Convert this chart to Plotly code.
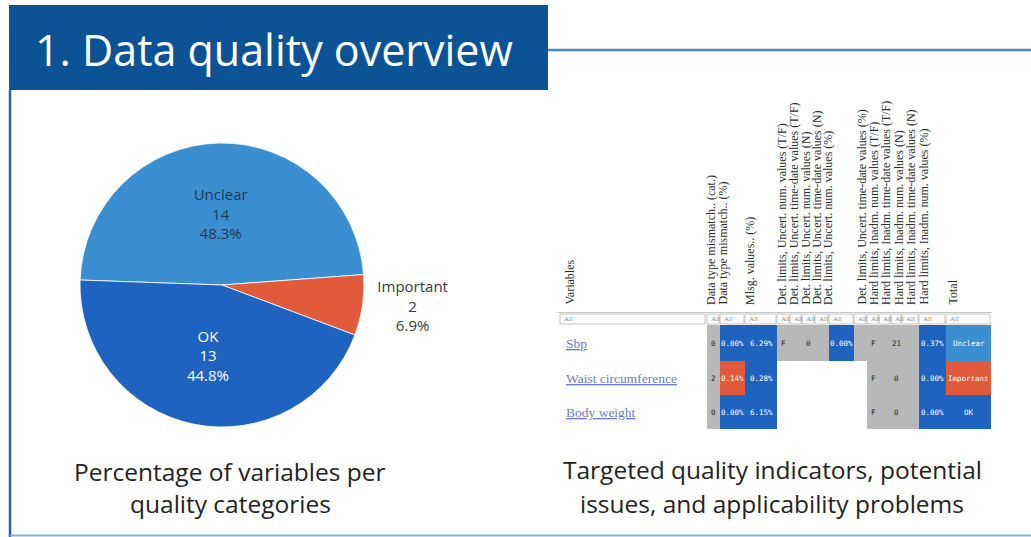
import plotly.graph_objects as go

# ---------------- data ----------------
# Pie: number of variables per quality category
quality_labels = ["Unclear", "Important", "OK"]
quality_counts = [14, 2, 13]

# Table: targeted quality indicators per variable
variables = ["Sbp", "Waist circumference", "Body weight"]
indicator_headers = [
    "Data type mismatch.. (cat.)",
    "Data type mismatch.. (%)",
    "Mlsg. values.. (%)",
    "Det. limits, Uncert. num. values (T/F)",
    "Det. limits, Uncert. time-date values (T/F)",
    "Det. limits, Uncert. num. values (N)",
    "Det. limits, Uncert. time-date values (N)",
    "Det. limits, Uncert. num. values (%)",
    "Det. limits, Uncert. time-date values (%)",
    "Hard limits, Inadm. num. values (T/F)",
    "Hard limits, Inadm. time-date values (T/F)",
    "Hard limits, Inadm. num. values (N)",
    "Hard limits, Inadm. time-date values (N)",
    "Hard limits, Inadm. num. values (%)",
    "Total",
]
cell_text = [
    ["0", "0.00%", "6.29%", "F", "", "0", "", "0.00%", "", "F", "", "21", "", "0.37%", "Unclear"],
    ["2", "0.14%", "0.28%", "", "", "", "", "", "", "F", "", "0", "", "0.00%", "Important"],
    ["0", "0.00%", "6.15%", "", "", "", "", "", "", "F", "", "0", "", "0.00%", "OK"],
]
cell_status = [
    ["na", "ok", "ok", "na", "na", "na", "na", "ok", "na", "na", "na", "na", "na", "ok", "unclear"],
    ["na", "important", "ok", "", "", "", "", "", "", "na", "na", "na", "na", "ok", "important"],
    ["na", "ok", "ok", "", "", "", "", "", "", "na", "na", "na", "na", "ok", "ok"],
]

# ---------------- layout / style ----------------
W, H = 1031, 537
BANNER = "#0c5396"
C_UNCLEAR = "#3b8fd1"
C_OK = "#1f63c1"
C_IMPORTANT = "#e15a3c"
C_NA = "#b8b8b8"

status_code = {"na": 1, "ok": 2, "unclear": 3, "important": 4}
status_scale = [
    [0.0, C_NA], [0.25, C_NA],
    [0.25, C_OK], [0.5, C_OK],
    [0.5, C_UNCLEAR], [0.75, C_UNCLEAR],
    [0.75, C_IMPORTANT], [1.0, C_IMPORTANT],
]

# table geometry (pixel units on the hidden axes)
table_left = 707
col_widths = [13, 25, 32, 13, 12, 13, 14, 25, 13, 12, 12, 11, 17, 27, 45]
row_top = 325
row_heights = [36, 34, 34]
header_base = 307
header_x = [711, 722, 750, 782, 793.5, 805, 816.5, 828, 861, 873.5, 886, 898.5, 911, 923.5, 952]
name_left = 560

col_edges = [table_left]
for w in col_widths:
    col_edges.append(col_edges[-1] + w)
row_edges = [row_top]
for h in row_heights:
    row_edges.append(row_edges[-1] + h)

z = [[status_code.get(s) for s in row] for row in cell_status]

fig = go.Figure()

# pie chart (centre and radius in pixels)
cx, cy, r = 222, 285, 142
fig.add_trace(go.Pie(
    labels=quality_labels,
    values=quality_counts,
    sort=False,
    direction="clockwise",
    rotation=272,
    marker=dict(colors=[C_UNCLEAR, C_IMPORTANT, C_OK], line=dict(color="white", width=0.8)),
    texttemplate="%{label}<br>%{value}<br>%{percent:.1%}",
    textposition=["inside", "outside", "inside"],
    insidetextorientation="horizontal",
    textfont=dict(family="Open Sans", size=15, color=["#24384d", "#3a3a3a", "white"]),
    domain=dict(x=[(cx - r) / W, (cx + r) / W], y=[1 - (cy + r) / H, 1 - (cy - r) / H]),
    showlegend=False,
    hoverinfo="skip",
))

# status table as a heatmap with uneven column widths
fig.add_trace(go.Heatmap(
    z=z,
    x=col_edges,
    y=row_edges,
    zmin=1, zmax=4,
    colorscale=status_scale,
    showscale=False,
    hoverinfo="skip",
    xaxis="x", yaxis="y",
))

shapes = []
annotations = []

# title banner and frame
shapes.append(dict(type="rect", xref="x", yref="y", x0=9, x1=548, y0=5, y1=90,
                   fillcolor=BANNER, line=dict(width=0), layer="below"))
shapes.append(dict(type="line", xref="x", yref="y", x0=548, x1=W, y0=50, y1=50,
                   line=dict(color="#4b87c9", width=2.5)))
shapes.append(dict(type="line", xref="x", yref="y", x0=10, x1=10, y0=90, y1=H,
                   line=dict(color="#2563a9", width=2.5)))
shapes.append(dict(type="line", xref="x", yref="y", x0=10, x1=W, y0=535.5, y1=535.5,
                   line=dict(color="#86aede", width=2)))
annotations.append(dict(xref="x", yref="y", x=33, y=49, text="1. Data quality overview",
                        showarrow=False, xanchor="left", yanchor="middle",
                        font=dict(family="Open Sans", size=43, color="white")))

# captions
caption_font = dict(family="Open Sans", size=24.5, color="#232323")
for txt, x, y in [("Percentage of variables per", 230, 471), ("quality categories", 230, 503),
                  ("Targeted quality indicators, potential", 772, 469),
                  ("issues, and applicability problems", 772, 503)]:
    annotations.append(dict(xref="x", yref="y", x=x, y=y, text=txt, showarrow=False,
                            xanchor="center", yanchor="middle", font=caption_font))

# table header (rotated labels)
header_font = dict(family="Liberation Serif", size=12, color="#2e2e2e")
annotations.append(dict(xref="x", yref="y", x=569, y=header_base, text="Variables",
                        textangle=-90, showarrow=False, xanchor="center", yanchor="bottom",
                        font=header_font))
for hx, label in zip(header_x, indicator_headers):
    annotations.append(dict(xref="x", yref="y", x=hx, y=header_base, text=label,
                            textangle=-90, showarrow=False, xanchor="center", yanchor="bottom",
                            font=header_font))

# filter row
shapes.append(dict(type="line", xref="x", yref="y", x0=558, x1=col_edges[-1] + 1, y0=312.5, y1=312.5,
                   line=dict(color="#c8c8c8", width=1)))
filter_boxes = [(name_left, 705)] + [(col_edges[i], col_edges[i + 1] - 1) for i in range(len(col_widths))]
for x0, x1 in filter_boxes:
    shapes.append(dict(type="rect", xref="x", yref="y", x0=x0, x1=x1, y0=314, y1=324,
                       line=dict(color="#c4c4c4", width=1), fillcolor="white"))
    annotations.append(dict(xref="x", yref="y", x=x0 + 2, y=319, text="All", showarrow=False,
                            xanchor="left", yanchor="middle",
                            font=dict(family="Liberation Serif", size=7, color="#888888")))

# variable names
for i, name in enumerate(variables):
    yc = (row_edges[i] + row_edges[i + 1]) / 2
    annotations.append(dict(xref="x", yref="y", x=564, y=yc, text=f"<u>{name}</u>", showarrow=False,
                            xanchor="left", yanchor="middle",
                            font=dict(family="Liberation Serif", size=13.5, color="#6f7bcb")))

# cell values
for i, row in enumerate(cell_text):
    yc = (row_edges[i] + row_edges[i + 1]) / 2
    for j, txt in enumerate(row):
        if not txt:
            continue
        xc = (col_edges[j] + col_edges[j + 1]) / 2
        color = "#222222" if cell_status[i][j] == "na" else "white"
        annotations.append(dict(xref="x", yref="y", x=xc, y=yc, text=txt, showarrow=False,
                                xanchor="center", yanchor="middle",
                                font=dict(family="DejaVu Sans Mono", size=7.5, color=color)))

fig.update_layout(
    width=W, height=H,
    margin=dict(l=0, r=0, t=0, b=0),
    paper_bgcolor="white",
    plot_bgcolor="rgba(0,0,0,0)",
    xaxis=dict(domain=[0, 1], range=[0, W], visible=False, fixedrange=True),
    yaxis=dict(domain=[0, 1], range=[H, 0], visible=False, fixedrange=True),
    shapes=shapes,
    annotations=annotations,
)

fig.write_html("out.html")
